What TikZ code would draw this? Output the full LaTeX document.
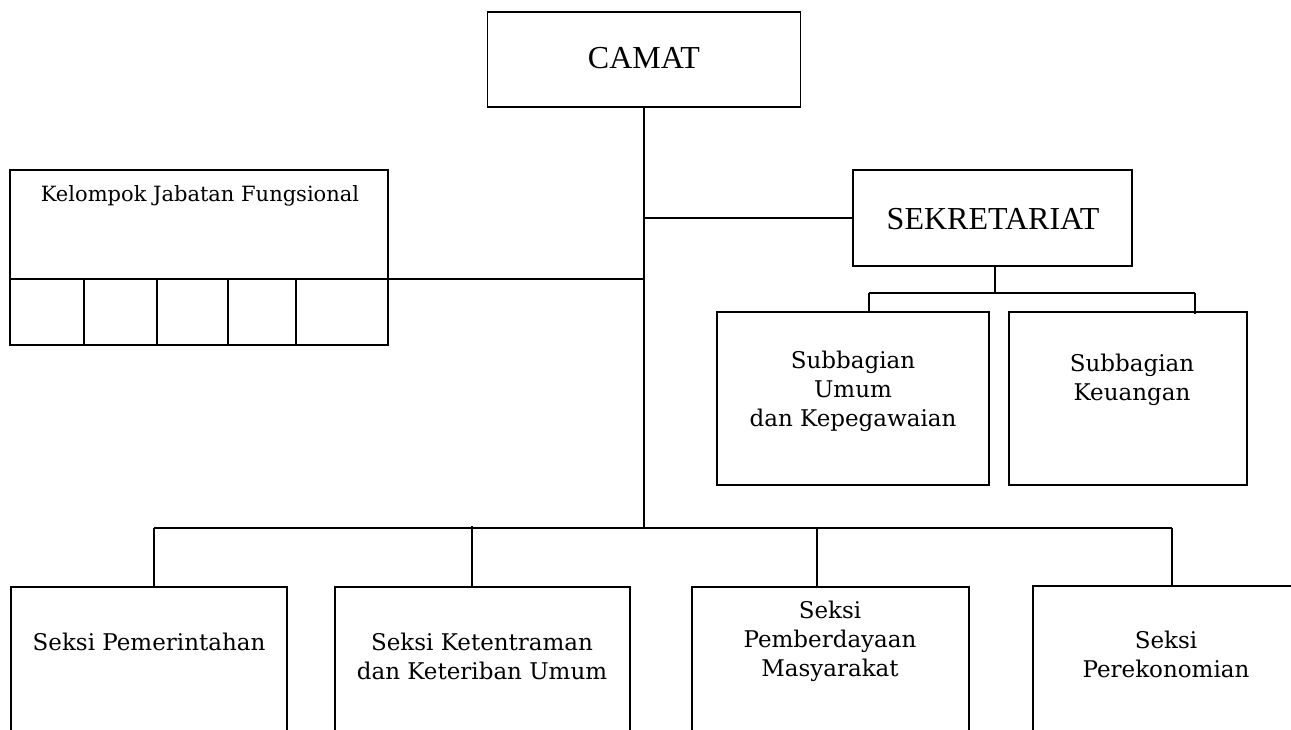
\documentclass[tikz,border=0pt]{standalone}
\usepackage{fontspec}
\setmainfont{Liberation Serif}
\newfontfamily\bonfam{DejaVu Serif}
\newcommand{\bonfont}{\bonfam\fontsize{23}{29}\selectfont}
\newcommand{\bonsmall}{\bonfam\fontsize{21}{27}\selectfont}
\newcommand{\tmsfont}{\rmfamily\fontsize{32}{38}\selectfont}
\begin{document}
\begin{tikzpicture}[x=1pt,y=-1pt,line width=1.8pt,
  box/.style={draw,rectangle,inner sep=0pt,minimum width=#1},
  txt/.style={align=center,inner sep=0pt,font=\bonfont},
  big/.style={inner sep=0pt,font=\tmsfont}]
\useasboundingbox (0,0) rectangle (1291,729);
% boxes
\node[box=313pt,minimum height=95pt] (camat) at (644,59.5) {};
\node[big] (camatT) at (644,58) {CAMAT};
\node[box=378pt,minimum height=175pt] (kjf) at (199,257.5) {};
\node[txt,font=\bonsmall] (kjfT) at (200,196) {Kelompok Jabatan Fungsional};
\node[box=279pt,minimum height=96pt] (sek) at (992.5,218) {};
\node[big] (sekT) at (993,219) {SEKRETARIAT};
\node[box=272pt,minimum height=173pt] (sum) at (853,398.5) {};
\node[txt] (sumT) at (853,391) {Subbagian\\Umum\\dan Kepegawaian};
\node[box=238pt,minimum height=173pt] (sku) at (1128,398.5) {};
\node[txt] (skuT) at (1132,380) {Subbagian\\Keuangan};
\node[box=276pt,minimum height=180pt] (b1) at (149,677) {};
\node[txt] (b1T) at (149,642) {Seksi Pemerintahan};
\node[box=295pt,minimum height=180pt] (b2) at (482.5,677) {};
\node[txt] (b2T) at (482,656) {Seksi Ketentraman\\dan Keteriban Umum};
\node[box=277pt,minimum height=180pt] (b3) at (830.5,677) {};
\node[txt] (b3T) at (830,641) {Seksi\\Pemberdayaan\\Masyarakat};
\node[box=270pt,minimum height=180pt] (b4) at (1168,676) {};
\node[txt] (b4T) at (1166,654) {Seksi\\Perekonomian};
% kelompok inner grid
\coordinate (kdl) at (10,279);
\coordinate (kdr) at (388,279);
\draw (kdl) -- (kdr);
\foreach \xx in {84,157,228,296} { \draw (\xx,279) -- (\xx,345); }
% main trunk
\coordinate (bus) at (644,528);
\draw (camat.south) -- (bus);
\draw (kdr) -- (kdr -| bus);
\draw (sek.west) -- (sek.west -| bus);
% sekretariat branch
\coordinate (sj) at (995,293);
\draw (sek.south -| sj) -- (sj);
\coordinate (sl) at (869,293);
\coordinate (sr) at (1195,293);
\draw (sl) -- (sr);
\draw (sl) -- (sl |- sum.north);
\draw (sr) -- (1195,314);
% bottom bus
\coordinate (bl) at (154,528);
\coordinate (br) at (1172,528);
\draw (bl) -- (br);
\draw (bl) -- (bl |- b1.north);
\draw (472,526) -- (472,587);
\draw (817,528) -- (817,587);
\draw (br) -- (br |- b4.north);
\end{tikzpicture}
\end{document}
